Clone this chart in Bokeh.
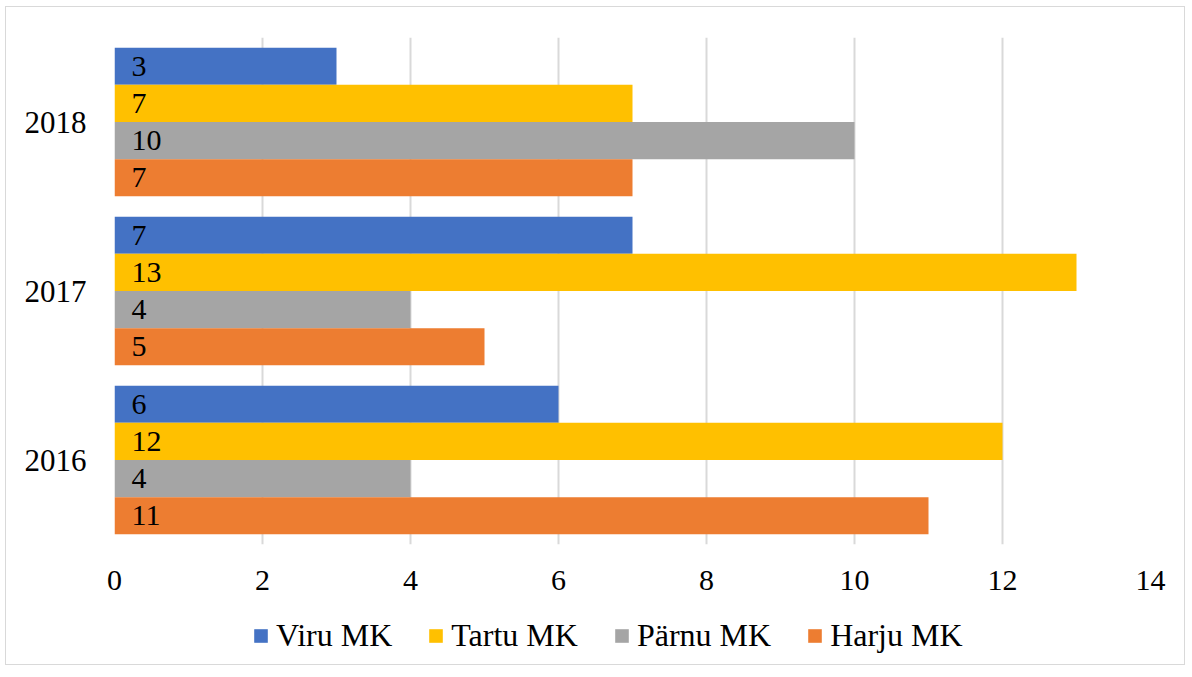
from bokeh.plotting import figure
from bokeh.layouts import column
from bokeh.models import FixedTicker, Range1d, FactorRange, ColumnDataSource, Legend, LegendItem
from bokeh.transform import dodge
from bokeh.core.properties import value
from bokeh.embed import file_html
from bokeh.resources import INLINE

years = ["2016", "2017", "2018"]
series = ["Viru MK", "Tartu MK", "Pärnu MK", "Harju MK"]
viru = [6, 7, 3]
tartu = [12, 13, 7]
parnu = [4, 4, 10]
harju = [11, 5, 7]
colors = ["#4472C4", "#FFC000", "#A5A5A5", "#ED7D31"]
x_ticks = [0, 2, 4, 6, 8, 10, 12, 14]

FONT = "Liberation Serif"

p = figure(frame_width=1036, frame_height=507, output_backend="svg", toolbar_location=None,
           y_range=FactorRange(factors=years, range_padding=0),
           x_range=Range1d(0, 14),
           min_border_left=108, min_border_right=34, min_border_top=30, min_border_bottom=60)
p.outline_line_color = None

values = [viru, tartu, parnu, harju]
offsets = [0.33, 0.11, -0.11, -0.33]
for name, vals, col, off in zip(series, values, colors, offsets):
    src = ColumnDataSource(dict(year=years, v=vals, lab=[str(v) for v in vals], zero=[0] * len(vals)))
    p.hbar(y=dodge("year", off, range=p.y_range), right="v", left=0, height=0.22,
           fill_color=col, line_color=None, source=src)
    p.text(x="zero", y=dodge("year", off, range=p.y_range), text="lab", source=src,
           x_offset=17, text_align="left", text_baseline="middle",
           text_font=value(FONT), text_font_size="30px", text_color="black")

p.xaxis.ticker = FixedTicker(ticks=x_ticks)
p.xaxis.axis_line_color = None
p.xaxis.major_tick_line_color = None
p.xaxis.minor_tick_line_color = None
p.xaxis.major_label_text_font = FONT
p.xaxis.major_label_text_font_size = "30px"
p.xaxis.major_label_text_color = "black"
p.xaxis.major_label_standoff = 20

p.yaxis.axis_line_color = None
p.yaxis.major_tick_line_color = None
p.yaxis.minor_tick_line_color = None
p.yaxis.major_label_text_font = FONT
p.yaxis.major_label_text_font_size = "31px"
p.yaxis.major_label_text_color = "black"
p.yaxis.major_label_standoff = 22

p.xgrid.grid_line_color = "#d9d9d9"
p.xgrid.grid_line_width = 2
p.ygrid.grid_line_color = None

# legend strip below the chart (proxy bars lie outside its visible range)
lf = figure(width=1178, height=60, output_backend="svg", toolbar_location=None,
            x_range=Range1d(0, 1), y_range=Range1d(0, 1),
            x_axis_type=None, y_axis_type=None,
            min_border_left=0, min_border_right=0, min_border_top=0, min_border_bottom=0)
lf.outline_line_color = None
lf.xgrid.grid_line_color = None
lf.ygrid.grid_line_color = None
items = []
for name, col, vals in zip(series, colors, values):
    proxy = ColumnDataSource(dict(y=[-10], right=[-vals[0]]))
    r = lf.hbar(y="y", right="right", left=-1, height=0.2, fill_color=col, line_color=None,
                source=proxy)
    items.append(LegendItem(label=name, renderers=[r]))
legend = Legend(items=items, orientation="horizontal", location=(138, 10),
                glyph_width=17, glyph_height=17, label_standoff=7, spacing=35,
                label_text_font=FONT, label_text_font_size="32px", label_text_color="black",
                border_line_color=None, background_fill_alpha=0, margin=0, padding=0)
lf.add_layout(legend)

layout = column(p, lf, spacing=0)
layout.styles = {"border": "1px solid #d9d9d9", "margin-left": "5px", "margin-top": "6px"}

open("out.html", "w").write(file_html(layout, INLINE))
